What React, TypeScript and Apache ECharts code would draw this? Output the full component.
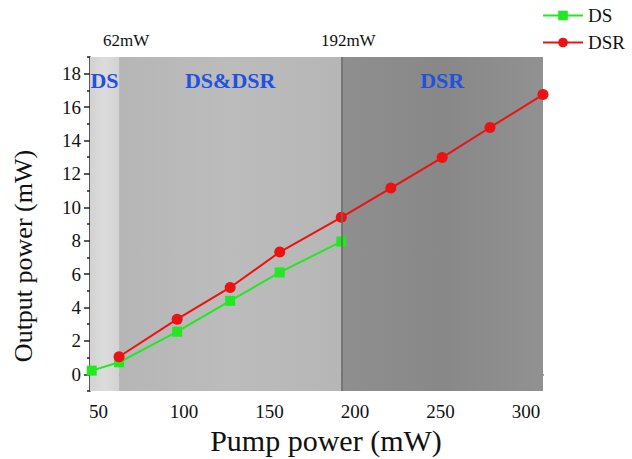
import React, { useEffect, useRef } from "react";
import * as echarts from "echarts";

// Measured pump/output pairs for the two lasing regimes
const pumpDS = [46, 62, 96, 127, 156, 192];
const outputDS = [0.22, 0.72, 2.55, 4.4, 6.1, 7.95];
const pumpDSR = [62, 96, 127, 156, 192, 221, 251, 279, 310];
const outputDSR = [1.05, 3.3, 5.2, 7.32, 9.4, 11.15, 12.98, 14.78, 16.75];

// Regime boundaries (mW) and their names
const regionBounds = [45, 62, 192, 310];
const regionNames = ["DS", "DS&DSR", "DSR"];
const thresholds = [62, 192];
const thresholdLabels = ["62mW", "192mW"];

// Axis ranges and tick positions
const xMin = 45;
const xMax = 310;
const yMin = -1;
const yMax = 19;
const xMajor = [50, 100, 150, 200, 250, 300];
const xMinor = [75, 125, 175, 225, 275];
const yMajor = [0, 2, 4, 6, 8, 10, 12, 14, 16, 18];
const yMinor = [-1, 1, 3, 5, 7, 9, 11, 13, 15, 17, 19];

const SERIF = "Liberation Serif, Times New Roman, serif";

const regionFills = [
  ["#d2d2d2", "#dcdcdc", "#d2d2d2"],
  ["#b6b6b6", "#bcbcbc", "#b6b6b6"],
  ["#919191", "#888888", "#8f8f8f"],
];

function fill(stops: string[]) {
  return new echarts.graphic.LinearGradient(1, 0, 0, 0, [
    { offset: 0, color: stops[0] },
    { offset: 0.5, color: stops[1] },
    { offset: 1, color: stops[2] },
  ]);
}

export default function App() {
  const ref = useRef<HTMLDivElement>(null);

  useEffect(() => {
    if (!ref.current) return;
    const chart = echarts.init(ref.current, null, { renderer: "svg" });

    const axisLine = { show: true, lineStyle: { color: "#222", width: 1.5 } };

    chart.setOption({
      animation: false,
      backgroundColor: "#ffffff",
      grid: { left: 90, right: 89, top: 57, bottom: 68 },
      legend: {
        data: ["DS", "DSR"],
        orient: "vertical",
        left: 542,
        top: 6,
        padding: 0,
        itemWidth: 40,
        itemHeight: 12,
        itemGap: 8,
        textStyle: { fontFamily: SERIF, fontSize: 19, color: "#111" },
      },
      xAxis: [
        {
          type: "value",
          min: xMin,
          max: xMax,
          axisLine,
          splitLine: { show: false },
          axisTick: { show: true, length: 6, customValues: xMajor, lineStyle: { color: "#222", width: 1.5 } },
          axisLabel: { customValues: xMajor, fontFamily: SERIF, fontSize: 19, color: "#111", margin: 11 },
        },
        {
          type: "value",
          position: "bottom",
          min: xMin,
          max: xMax,
          axisLine: { show: false },
          splitLine: { show: false },
          axisTick: { show: true, length: 3, customValues: xMinor, lineStyle: { color: "#222", width: 1.5 } },
          axisLabel: { show: false },
        },
      ],
      yAxis: [
        {
          type: "value",
          min: yMin,
          max: yMax,
          axisLine,
          splitLine: { show: false },
          axisTick: { show: true, length: 6, customValues: yMajor, lineStyle: { color: "#222", width: 1.5 } },
          axisLabel: { customValues: yMajor, fontFamily: SERIF, fontSize: 19, color: "#111", margin: 9 },
        },
        {
          type: "value",
          position: "left",
          min: yMin,
          max: yMax,
          axisLine: { show: false },
          splitLine: { show: false },
          axisTick: { show: true, length: 3, customValues: yMinor, lineStyle: { color: "#222", width: 1.5 } },
          axisLabel: { show: false },
        },
      ],
      graphic: [
        {
          type: "text",
          x: 326,
          y: 440,
          style: {
            text: "Pump power (mW)",
            fontFamily: SERIF,
            fontSize: 30,
            fill: "#111",
            align: "center",
            verticalAlign: "middle",
          },
        },
        {
          type: "text",
          x: 23,
          y: 256,
          rotation: Math.PI / 2,
          style: {
            text: "Output power (mW)",
            fontFamily: SERIF,
            fontSize: 26,
            fill: "#111",
            align: "center",
            verticalAlign: "middle",
          },
        },
      ],
      series: [
        {
          name: "regimes",
          type: "line",
          data: [],
          z: 1,
          silent: true,
          markArea: {
            silent: true,
            data: regionNames.map((name, i) => [
              {
                name,
                xAxis: regionBounds[i],
                itemStyle: { color: fill(regionFills[i]) },
              },
              { xAxis: regionBounds[i + 1] },
            ]),
            label: {
              show: true,
              position: "insideTop",
              distance: 12,
              formatter: "{b}",
              fontFamily: SERIF,
              fontWeight: "bold",
              fontSize: 22,
              color: "#1f52e0",
            },
          },
          markLine: {
            silent: true,
            symbol: "none",
            data: thresholds.map((x, i) => ({
              name: thresholdLabels[i],
              xAxis: x,
              lineStyle: { color: i === 0 ? "rgba(0,0,0,0)" : "#6a6a6a" },
            })),
            lineStyle: { width: 1.5, type: "solid" },
            label: {
              show: true,
              position: "end",
              distance: 8,
              formatter: "{b}",
              fontFamily: SERIF,
              fontSize: 17,
              color: "#111",
              padding: [0, 0, 0, 14],
            },
          },
        },
        {
          name: "DS",
          type: "line",
          z: 3,
          data: pumpDS.map((x, i) => [x, outputDS[i]]),
          symbol: "rect",
          symbolSize: 10,
          itemStyle: { color: "#22e822" },
          lineStyle: { color: "#22e822", width: 2 },
        },
        {
          name: "DSR",
          type: "line",
          z: 4,
          data: pumpDSR.map((x, i) => [x, outputDSR[i]]),
          symbol: "circle",
          symbolSize: 11,
          itemStyle: { color: "#ee1111" },
          lineStyle: { color: "#ee1111", width: 2 },
        },
      ],
    });

    return () => chart.dispose();
  }, []);

  return (
    <div
      ref={ref}
      style={{ position: "fixed", left: 0, top: 0, width: 632, height: 459 }}
    />
  );
}
